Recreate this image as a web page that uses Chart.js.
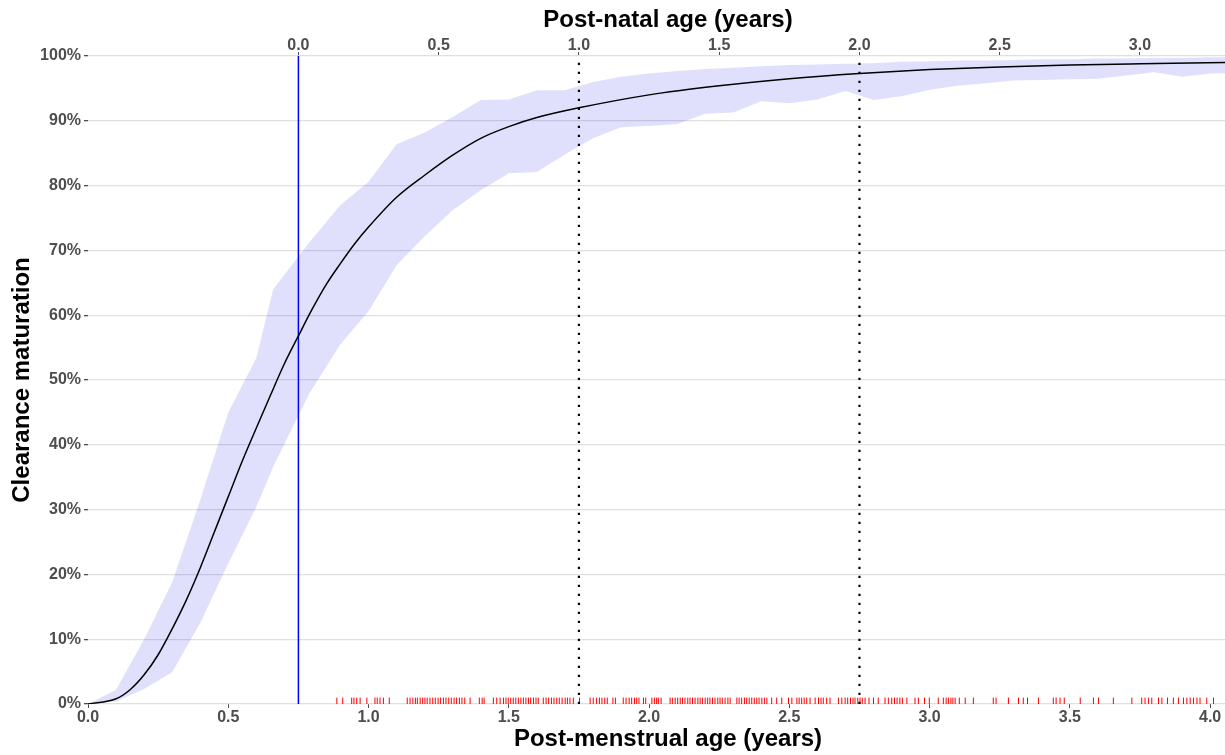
<!DOCTYPE html>
<html>
<head>
<meta charset="utf-8">
<script src="https://cdn.jsdelivr.net/npm/chart.js@4.4.1/dist/chart.umd.min.js"></script>
<style>
  html, body { margin: 0; padding: 0; background: #fff; overflow: hidden; }
  /* the panel runs on past the right edge of the picture, which crops it */
  #wrap { width: 1225px; height: 755px; overflow: hidden; }
</style>
</head>
<body>
<div id="wrap"><canvas id="myChart" width="1248" height="755"></canvas></div>
<script>
// post-menstrual age (years) and the fitted maturation curve (%)
const curvePma = [0, 0.1, 0.15, 0.2, 0.25, 0.3, 0.35, 0.4, 0.45, 0.5, 0.55, 0.6, 0.65, 0.7, 0.75,
                  0.8, 0.85, 0.9, 0.95, 1.0, 1.1, 1.2, 1.3, 1.4, 1.5, 1.6, 1.75, 2.0, 2.25, 2.5,
                  2.75, 3.0, 3.25, 3.5, 3.75, 4.05, 4.15];
const curveValues = [0, 0.8, 2.2, 4.5, 7.6, 11.6, 16.0, 21.0, 26.5, 32.0, 37.5, 42.6, 47.6, 52.5, 56.8,
                     61.0, 64.8, 68.0, 71.0, 73.6, 78.2, 81.6, 84.7, 87.3, 89.1, 90.5, 92.0, 94.0, 95.4, 96.5,
                     97.3, 97.9, 98.3, 98.6, 98.8, 99.0, 99.05];

// confidence band
const bandPma = [0, 0.1, 0.2, 0.3, 0.4, 0.5, 0.6, 0.66, 0.79, 0.9, 1.0, 1.1, 1.2, 1.3, 1.4, 1.5, 1.6, 1.7,
                 1.8, 1.9, 2.0, 2.1, 2.2, 2.3, 2.4, 2.5, 2.6, 2.7, 2.8, 2.9, 3.0, 3.1, 3.2, 3.3, 3.4,
                 3.5, 3.6, 3.7, 3.8, 3.9, 4.0, 4.1, 4.2];
const bandUpper = [0, 2.2, 10.0, 18.8, 31.5, 45.0, 53.4, 64.0, 71.3, 77.0, 80.6, 86.4, 88.2, 90.6, 93.2,
                   93.3, 94.7, 94.7, 96.0, 96.8, 97.3, 97.7, 98.0, 98.2, 98.4, 98.6, 98.7, 98.8, 98.9,
                   99.1, 99.2, 99.3, 99.3, 99.4, 99.5, 99.5, 99.6, 99.6, 99.7, 99.7, 99.8, 99.8, 99.8];
const bandLower = [0, 0.4, 2.3, 4.9, 12.5, 21.7, 30.4, 36.6, 48.0, 55.5, 60.6, 67.7, 72.2, 76.2, 79.3,
                   81.9, 82.1, 84.8, 87.3, 89.0, 89.2, 89.5, 91.1, 91.3, 93.0, 92.7, 93.3, 94.6, 93.2,
                   93.8, 94.8, 95.4, 95.8, 96.2, 96.3, 96.4, 96.5, 97.0, 97.5, 96.8, 97.3, 97.4, 97.4];

// observed post-menstrual ages (rug)
const rugPma = [0.887, 0.908, 0.940, 0.948, 0.958, 0.970, 0.994, 1.023, 1.031, 1.041, 1.053, 1.074,
  1.138, 1.148, 1.158, 1.167, 1.174, 1.184, 1.193, 1.201, 1.209, 1.219, 1.229, 1.238, 1.248, 1.257,
  1.267, 1.276, 1.286, 1.295, 1.305, 1.314, 1.324, 1.333, 1.343, 1.362, 1.395, 1.405, 1.412, 1.445,
  1.457, 1.469, 1.481, 1.490, 1.498, 1.507, 1.516, 1.525, 1.534, 1.543, 1.552, 1.561, 1.570, 1.578,
  1.588, 1.597, 1.605, 1.623, 1.633, 1.642, 1.652, 1.661, 1.671, 1.680, 1.690, 1.701, 1.709, 1.718,
  1.730, 1.752, 1.790, 1.801, 1.813, 1.823, 1.832, 1.842, 1.851, 1.871, 1.880, 1.908, 1.918, 1.929,
  1.938, 1.948, 1.956, 1.964, 1.980, 1.988, 2.010, 2.019, 2.027, 2.033, 2.043, 2.075, 2.083, 2.093,
  2.102, 2.111, 2.119, 2.128, 2.138, 2.146, 2.155, 2.164, 2.174, 2.182, 2.190, 2.200, 2.209, 2.217,
  2.226, 2.235, 2.245, 2.253, 2.261, 2.271, 2.281, 2.289, 2.313, 2.321, 2.330, 2.340, 2.348, 2.357,
  2.366, 2.375, 2.384, 2.392, 2.402, 2.411, 2.420, 2.437, 2.455, 2.473, 2.497, 2.509, 2.527, 2.535,
  2.544, 2.553, 2.562, 2.574, 2.592, 2.604, 2.613, 2.621, 2.633, 2.645, 2.675, 2.687, 2.699, 2.708,
  2.718, 2.727, 2.734, 2.744, 2.752, 2.760, 2.770, 2.784, 2.800, 2.817, 2.841, 2.853, 2.865, 2.875,
  2.884, 2.894, 2.903, 2.919, 2.948, 2.960, 2.982, 2.999, 3.031, 3.049, 3.059, 3.067, 3.076, 3.083,
  3.091, 3.106, 3.127, 3.156, 3.227, 3.237, 3.281, 3.317, 3.334, 3.349, 3.388, 3.441, 3.451, 3.465,
  3.480, 3.537, 3.584, 3.602, 3.655, 3.721, 3.756, 3.768, 3.780, 3.792, 3.816, 3.828, 3.848, 3.869,
  3.887, 3.905, 3.917, 3.929, 3.941, 3.953, 3.964, 3.988, 4.012];
const rugHeight = 0.45;

// birth in post-menstrual years, and post-natal ages marked with dotted lines
const birthPma = 0.75;
const pnaMarks = [1, 2];

const pmaMin = 0;
const pmaMax = 4.135;

const tickFont = {family: "'Liberation Sans', Arial, sans-serif", size: 16, weight: 'bold'};
const titleFont = {family: "'Liberation Sans', Arial, sans-serif", size: 24, weight: 'bold'};
const tickGray = '#4d4d4d';
const gridGray = '#e0e0e0';

const toPoints = (xs, ys) => xs.map((x, i) => ({x: x, y: ys[i]}));

// let the horizontal axes run right to the canvas edge
const noEdgePadding = (scale, h) => {
  scale.height = h;
  scale.paddingLeft = 0;
  scale.paddingRight = 0;
};

const datasets = [
  {
    label: 'curve',
    data: toPoints(curvePma, curveValues),
    borderColor: '#000000',
    borderWidth: 1.5,
    pointRadius: 0,
    tension: 0.4,
    cubicInterpolationMode: 'monotone',
    fill: false,
    order: 0
  },
  {
    label: 'birth',
    data: [{x: birthPma, y: 0}, {x: birthPma, y: 100}],
    borderColor: '#0000ff',
    borderWidth: 1.5,
    pointRadius: 0,
    fill: false,
    order: 1
  }
];

for (let pna of pnaMarks) {
  datasets.push({
    label: 'pna ' + pna,
    data: [{x: pna + birthPma, y: 0}, {x: pna + birthPma, y: 100}],
    borderColor: '#000000',
    borderWidth: 2.2,
    borderDash: [2.2, 6.8],
    pointRadius: 0,
    fill: false,
    order: 1
  });
}

datasets.push({
  label: 'rug',
  data: rugPma.map(x => ({x: x, y: rugHeight})),
  showLine: false,
  pointStyle: 'line',
  rotation: 90,
  pointRadius: 3.5,
  pointBorderColor: '#ff0000',
  pointBorderWidth: 1,
  borderColor: '#ff0000',
  order: 2
});

datasets.push({
  label: 'lower',
  data: toPoints(bandPma, bandLower),
  borderWidth: 0,
  pointRadius: 0,
  fill: false,
  order: 3
});
datasets.push({
  label: 'upper',
  data: toPoints(bandPma, bandUpper),
  borderWidth: 0,
  pointRadius: 0,
  backgroundColor: 'rgba(0, 0, 230, 0.12)',
  fill: '-1',
  order: 4
});

const myChart = new Chart(document.getElementById('myChart'), {
  type: 'line',
  data: {datasets: datasets},
  options: {
    responsive: false,
    animation: false,
    layout: {padding: 0, autoPadding: false},
    plugins: {
      legend: {display: false},
      tooltip: {enabled: false}
    },
    scales: {
      x: {
        type: 'linear',
        position: 'bottom',
        min: pmaMin,
        max: pmaMax,
        afterFit: (scale) => noEdgePadding(scale, 51),
        border: {display: false},
        grid: {drawOnChartArea: false, drawTicks: true, tickLength: 4, tickColor: tickGray},
        ticks: {
          stepSize: 0.5,
          includeBounds: false,
          maxRotation: 0,
          padding: 0,
          color: tickGray,
          font: tickFont,
          callback: (v) => v.toFixed(1)
        },
        title: {display: true, text: 'Post-menstrual age (years)', color: '#000', font: titleFont, padding: {top: 0, bottom: 1}}
      },
      x2: {
        type: 'linear',
        position: 'top',
        min: pmaMin - birthPma,
        max: pmaMax - birthPma,
        afterFit: (scale) => noEdgePadding(scale, 56),
        afterBuildTicks: (scale) => { scale.ticks = scale.ticks.filter(t => t.value >= 0); },
        border: {display: false},
        grid: {drawOnChartArea: false, drawTicks: true, tickLength: 4, tickColor: tickGray},
        ticks: {
          stepSize: 0.5,
          includeBounds: false,
          maxRotation: 0,
          padding: -3,
          color: tickGray,
          font: tickFont,
          callback: (v) => v.toFixed(1)
        },
        title: {display: true, text: 'Post-natal age (years)', color: '#000', font: titleFont, padding: {top: 6, bottom: 0}}
      },
      y: {
        type: 'linear',
        min: 0,
        max: 100,
        afterFit: (scale) => { scale.width = 88; },
        border: {display: false},
        grid: {color: gridGray, lineWidth: 1.3, drawTicks: true, tickLength: 4, tickColor: tickGray},
        ticks: {
          stepSize: 10,
          padding: 3,
          color: tickGray,
          font: tickFont,
          callback: (v) => v + '%'
        },
        title: {display: true, text: 'Clearance maturation', color: '#000', font: titleFont, padding: {top: 8, bottom: 0}}
      }
    }
  }
});
</script>
</body>
</html>
